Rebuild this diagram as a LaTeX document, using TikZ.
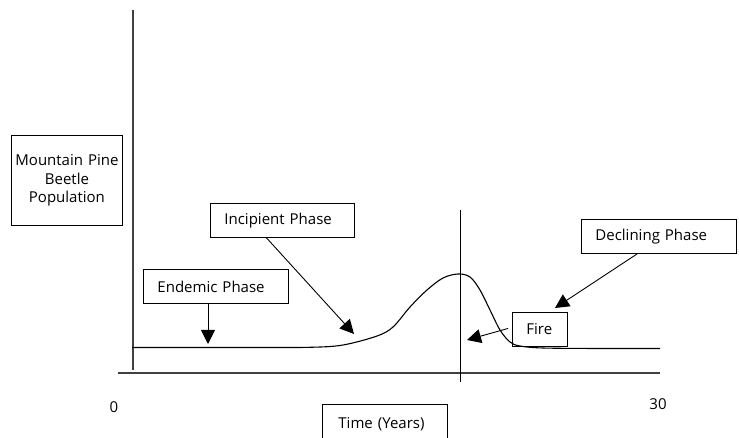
\documentclass[tikz,border=0pt]{standalone}
\usepackage{fontspec}
\setmainfont{Open Sans}
\usetikzlibrary{arrows.meta,calc}
\begin{document}
\begin{tikzpicture}[x=1pt,y=-1pt,
  lbl/.style={draw=black, line width=0.9pt, inner xsep=14pt, inner ysep=0pt,
    minimum height=34pt, align=left, anchor=north west,
    font=\fontsize{15}{18.7}\selectfont},
  plain/.style={inner sep=0pt, font=\fontsize{15}{18.7}\selectfont},
  axis/.style={line width=1.3pt, draw=black!75},
  arr/.style={line width=0.9pt, -{Triangle[length=14pt,width=14pt]}},
  curve/.style={line width=1.1pt}]
\useasboundingbox (0,0) rectangle (739,438);
\begin{scope}
\clip (0,0) rectangle (739,438);
% axes
\coordinate (ytop) at (133,10);
\coordinate (ybot) at (133,370);
\coordinate (xl) at (118,373);
\coordinate (xr) at (660,373);
\coordinate (ftop) at (460,210);
\coordinate (fbot) at (460,382);
\draw[axis] (ytop) -- (ybot);
\draw[axis] (xl) -- (xr);
\draw[line width=0.9pt] (ftop) -- (fbot);
% population curve
\draw[curve] plot[smooth, tension=0.55] coordinates {
  (132,347.5) (250,347.5) (310,347.3) (343,345) (377,336) (393,327)
  (410,307) (427,290) (443,278) (458,274) (470,277) (480,290)
  (490,310) (500,330) (510,342) (520,346) (543,348) (600,348.5) (660,348.5)};
% boxes
\node[lbl, text width=107pt, minimum height=90pt, inner xsep=2pt, align=center,
  anchor=north west] (mpb) at (11,135) {Mountain Pine\\Beetle\\Population};
\node[lbl, text width=116pt] (inc) at (210,203) {Incipient Phase};
\node[lbl, text width=117pt] (end) at (143,269) {Endemic Phase};
\node[lbl, text width=27pt] (fire) at (512,312) {Fire};
\node[lbl, text width=127pt] (dec) at (581,219) {Declining Phase};
\node[lbl, text width=93pt, inner xsep=16pt, minimum height=40pt] (time) at (322,404) {Time (Years)};
\node[plain] (zero) at (114,407) {0};
\node[plain] (thirty) at (658,404) {30};
% arrows
\coordinate (endTip) at (208,344);
\coordinate (incTip) at (354,334);
\coordinate (fireTip) at (467,340);
\coordinate (decTip) at (555,308);
\draw[arr] (end.south -| endTip) -- (endTip);
\draw[arr] ($(inc.south west)!0.39!(inc.south east)$) -- (incTip);
\draw[arr] ($(fire.west)+(-4,-1)$) -- (fireTip);
\draw[arr] ($(dec.south west)!0.36!(dec.south east)$) -- (decTip);
\end{scope}
\end{tikzpicture}
\end{document}
